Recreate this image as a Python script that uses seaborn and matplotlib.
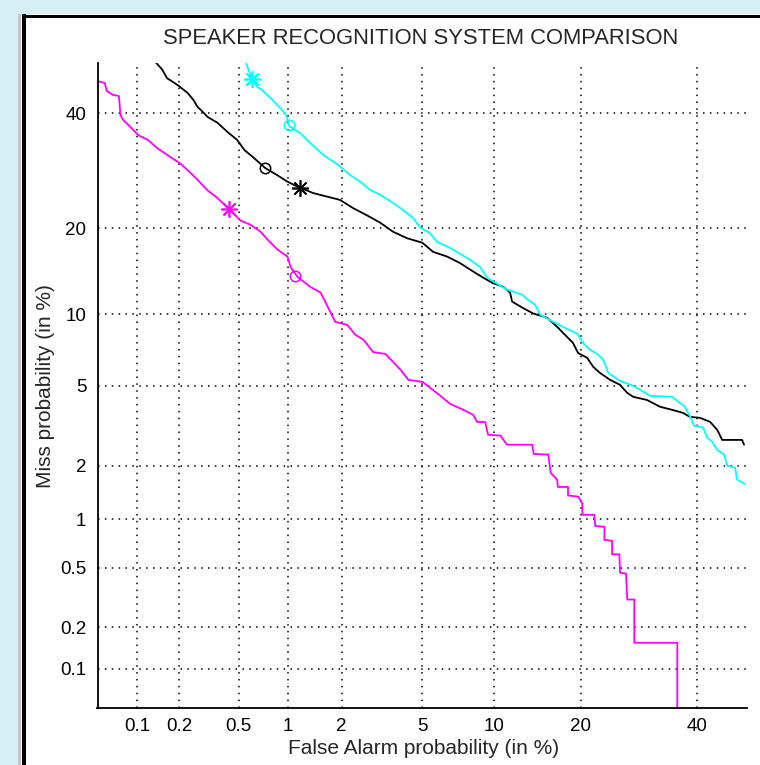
import math
import numpy as np
import matplotlib
matplotlib.use("Agg")
import matplotlib.pyplot as plt
from matplotlib.patches import Rectangle
import seaborn as sns

# DET curves (false alarm %, miss %)
magenta_fa = [0.05, 0.057, 0.059, 0.066, 0.073, 0.074, 0.075, 0.079, 0.089, 0.102,
              0.120, 0.140, 0.175, 0.206, 0.241, 0.269, 0.315, 0.365, 0.431, 0.516,
              0.594, 0.687, 0.758, 0.868, 0.996, 1.04, 1.137, 1.345, 1.537, 1.63,
              1.74, 1.85, 2.14, 2.36, 2.60, 2.91, 3.35, 3.65, 3.96, 4.31,
              5.01, 5.41, 6.02, 6.63, 7.53, 8.27, 8.57, 9.23, 9.48, 10.58,
              11.2, 13.82, 14.0, 15.7, 16.0, 16.8, 16.9, 18.23, 18.23, 19.63,
              20.2, 20.2, 21.94, 22.1, 23.5, 23.5, 24.71, 24.71, 25.9, 26.0,
              27.0, 27.2, 28.4, 28.4, 36.2, 36.2]
magenta_miss = [46.4, 46.0, 44.4, 43.6, 43.4, 41.8, 39.6, 38.6, 37.3, 35.7,
                34.8, 33.3, 31.6, 30.4, 28.8, 27.6, 25.8, 24.6, 22.9, 21.1,
                20.5, 19.5, 18.4, 17.1, 16.2, 14.9, 13.8, 12.7, 12.1, 11.2,
                10.2, 9.35, 9.1, 8.3, 7.92, 7.03, 6.9, 6.37, 5.89, 5.31,
                5.20, 4.89, 4.48, 4.11, 3.85, 3.64, 3.36, 3.36, 2.90, 2.87,
                2.58, 2.58, 2.31, 2.29, 1.83, 1.68, 1.53, 1.53, 1.37, 1.35,
                1.23, 1.06, 1.06, 0.91, 0.90, 0.75, 0.74, 0.61, 0.61, 0.466,
                0.46, 0.31, 0.31, 0.155, 0.155, 0.001]

black_fa = [0.136, 0.152, 0.165, 0.196, 0.230, 0.252, 0.269, 0.283, 0.315, 0.365,
            0.425, 0.49, 0.545, 0.617, 0.73, 0.868, 0.996, 1.15, 1.40, 1.68,
            1.96, 2.30, 2.71, 3.16, 3.65, 4.26, 5.0, 5.59, 6.44, 7.30,
            8.27, 9.07, 9.90, 10.84, 11.5, 11.7, 12.8, 13.9, 15.57, 16.8,
            18.1, 18.9, 19.6, 20.9, 21.8, 22.8, 24.4, 26.0, 27.2, 28.2,
            30.6, 33.0, 35.2, 37.3, 38.6, 40.6, 42.6, 44.0, 45.0, 49.0, 49.4]
black_miss = [50.3, 48.8, 47.0, 45.6, 44.0, 42.6, 41.2, 40.6, 39.2, 38.1,
              36.3, 34.8, 32.9, 31.6, 29.7, 28.4, 27.3, 26.4, 25.4, 24.8,
              24.3, 23.0, 21.9, 20.8, 19.5, 18.6, 18.0, 16.8, 16.2, 15.4,
              14.4, 13.7, 13.1, 12.7, 12.1, 11.2, 10.6, 10.1, 9.7, 8.94,
              8.13, 7.68, 6.97, 6.64, 6.07, 5.71, 5.31, 5.04, 4.63, 4.44,
              4.29, 3.98, 3.85, 3.72, 3.56, 3.52, 3.36, 3.07, 2.73, 2.73, 2.58]

cyan_fa = [0.553, 0.585, 0.61, 0.655, 0.70, 0.81, 0.90, 0.97, 1.0, 1.02,
           1.18, 1.345, 1.59, 1.92, 2.22, 2.50, 2.81, 3.16, 3.65, 4.07,
           4.53, 4.89, 5.41, 5.82, 6.63, 7.44, 8.03, 8.83, 9.40, 9.65,
           11.2, 12.7, 13.3, 14.15, 14.75, 16.3, 17.8, 19.5, 20.3, 21.3,
           22.4, 23.3, 24.1, 26.0, 28.2, 31.2, 35.2, 36.4, 37.5, 38.6,
           39.4, 41.2, 42.0, 43.0, 44.0, 45.4, 46.0, 47.6, 48.0, 49.6]
cyan_miss = [50.3, 48.2, 46.8, 45.2, 44.6, 42.6, 41.0, 39.8, 38.6, 37.4,
             36.1, 34.2, 32.0, 30.2, 28.4, 27.3, 25.9, 25.1, 23.8, 22.7,
             21.5, 20.1, 19.3, 18.1, 17.3, 16.4, 15.8, 14.9, 13.7, 13.5,
             12.4, 11.9, 11.4, 10.9, 9.96, 9.35, 8.86, 8.36, 7.68, 7.19,
             6.9, 6.52, 5.71, 5.25, 4.99, 4.48, 4.44, 4.20, 4.02, 3.60,
             3.22, 3.15, 2.80, 2.67, 2.42, 2.29, 2.0, 1.95, 1.68, 1.59]

# operating points: * = actual decision, o = minimum cost
star_pts = {"magenta": (0.431, 22.9), "black": (1.18, 26.2), "cyan": (0.61, 46.8)}
circle_pts = {"magenta": (1.10, 13.9), "black": (0.73, 29.7), "cyan": (1.02, 37.7)}

tick_vals = [0.1, 0.2, 0.5, 1, 2, 5, 10, 20, 40]
tick_labels = ["0.1", "0.2", "0.5", "1", "2", "5", "10", "20", "40"]

# normal deviate scale (probit) built from erf, no scipy needed
_z = np.linspace(-7, 7, 40001)
_p = np.array([0.5 * (1 + math.erf(v / math.sqrt(2))) for v in _z])


def to_dev(pct):
    return np.interp(np.asarray(pct, dtype=float) / 100.0, _p, _z)


def from_dev(z):
    return 100.0 * np.interp(np.asarray(z, dtype=float), _z, _p)


sns.set_style("white")
plt.rcParams["font.family"] = ["Liberation Sans", "DejaVu Sans"]

fig = plt.figure(figsize=(7.6, 7.65), dpi=100)
fig.patch.set_facecolor("white")

# screenshot window frame
fig.patches.append(Rectangle((0, 1 - 14 / 765), 1, 14 / 765, transform=fig.transFigure,
                             facecolor="#d6eff5", edgecolor="none", zorder=0))
fig.patches.append(Rectangle((0, 0), 18 / 760, 1, transform=fig.transFigure,
                             facecolor="#d6eff5", edgecolor="none", zorder=0))
fig.patches.append(Rectangle((18 / 760, 0), 3 / 760, 1 - 14 / 765, transform=fig.transFigure,
                             facecolor="#c4c4c4", edgecolor="none", zorder=0))
fig.patches.append(Rectangle((22 / 760, 0), 4 / 760, 1 - 14 / 765, transform=fig.transFigure,
                             facecolor="black", edgecolor="none", zorder=1))
fig.patches.append(Rectangle((22 / 760, 1 - 18 / 765), 1, 3 / 765, transform=fig.transFigure,
                             facecolor="black", edgecolor="none", zorder=1))

ax = fig.add_axes([97.5 / 760, 57 / 765, 649.5 / 760, 644.6 / 765])
ax.set_xscale("function", functions=(to_dev, from_dev))
ax.set_yscale("function", functions=(to_dev, from_dev))

curves = [(magenta_fa, magenta_miss, "#ff00ff", "magenta"),
          (black_fa, black_miss, "black", "black"),
          (cyan_fa, cyan_miss, "#00ffff", "cyan")]
for fa, miss, col, key in curves:
    sns.lineplot(x=fa, y=miss, sort=False, estimator=None, color=col, lw=1.3, ax=ax)
    ax.plot(*star_pts[key], marker=(8, 2, 0), ms=12, mew=1.2, color=col, ls="none")
    ax.plot(*circle_pts[key], marker="o", ms=7.5, mew=1.1, mfc="none", mec=col, ls="none")

ax.set_xlim(0.05, 50)
ax.set_ylim(0.05, 50)
ax.set_xticks(tick_vals)
ax.set_xticklabels(tick_labels)
ax.set_yticks(tick_vals)
ax.set_yticklabels(tick_labels)
ax.minorticks_off()
ax.grid(True, color="black", linestyle=(0, (1, 3.5)), linewidth=1.1)
ax.tick_params(direction="in", length=5, width=1, colors="black", labelsize=13.5)
ax.tick_params(axis="x", pad=7)
ax.tick_params(axis="y", pad=8)
for s in ["top", "right"]:
    ax.spines[s].set_visible(False)
for s in ["left", "bottom"]:
    ax.spines[s].set_color("black")
    ax.spines[s].set_linewidth(1.3)

fig.text(421 / 760, 1 - 38 / 765, "SPEAKER RECOGNITION SYSTEM COMPARISON",
         ha="center", va="center", fontsize=15.8)
fig.text(424 / 760, 1 - 748 / 765, "False Alarm probability (in %)",
         ha="center", va="center", fontsize=15)
fig.text(46 / 760, 1 - 386 / 765, "Miss probability (in %)",
         ha="center", va="center", rotation=90, fontsize=15)

fig.savefig("out.png", dpi=100)
